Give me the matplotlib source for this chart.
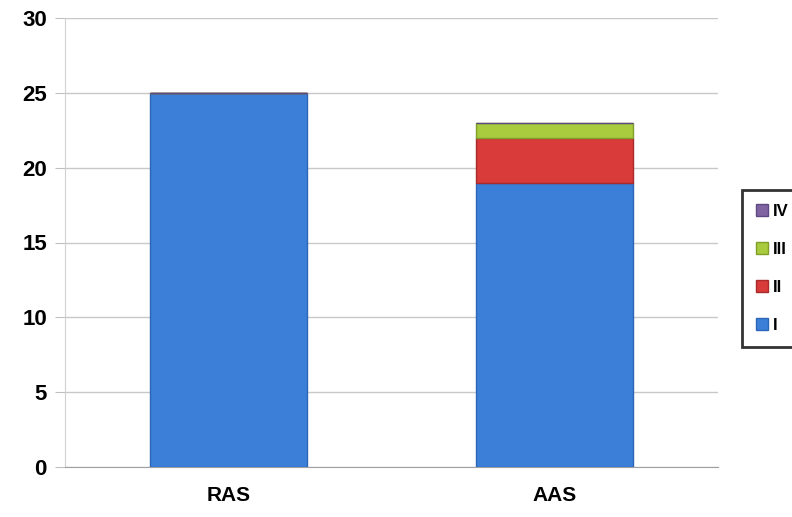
import numpy as np
import matplotlib.pyplot as plt

categories = ["RAS", "AAS"]
stage_names = ["I", "II", "III", "IV"]
stage_I = [25, 19]
stage_II = [0, 3]
stage_III = [0, 1]
stage_IV = [0, 0]

colors = ["#3b7fd9", "#d93a3a", "#a9cc3e", "#8064a2"]
edges = ["#2c66b8", "#a82a2a", "#7f9e2a", "#5e4a80"]

plt.rcParams["font.family"] = ["Liberation Sans", "DejaVu Sans"]

fig = plt.figure(figsize=(7.92, 5.17), dpi=100)
ax = fig.add_axes([65 / 792, 50 / 517, 653 / 792, 449 / 517])

x = np.arange(len(categories))
width = 0.48
bottom = np.zeros(len(categories))
handles = []
for vals, name, c, ec in zip([stage_I, stage_II, stage_III, stage_IV],
                             stage_names, colors, edges):
    vals = np.array(vals, dtype=float)
    bars = ax.bar(x, vals, width, bottom=bottom, color=c, edgecolor=ec,
                  linewidth=1.0, label=name, zorder=3)
    handles.append(bars)
    bottom += vals

ax.set_xlim(-0.5, 1.5)
ax.set_ylim(0, 30)
ax.set_yticks(range(0, 31, 5))
ax.set_xticks(x)
ax.set_xticklabels(categories)
for lab in ax.get_yticklabels():
    lab.set_fontweight("bold")
    lab.set_fontsize(16)
for lab in ax.get_xticklabels():
    lab.set_fontweight("bold")
    lab.set_fontsize(15)

ax.yaxis.grid(True, color="#c8c8c8", linewidth=1.0, zorder=0)
ax.tick_params(axis="y", length=7, color="#c0c0c0", pad=6)
ax.tick_params(axis="x", length=0, pad=14)
for side in ["top", "right"]:
    ax.spines[side].set_visible(False)
ax.spines["left"].set_color("#d0d0d0")
ax.spines["bottom"].set_color("#a0a0a0")

# legend sits at the right edge, as in the original
leg = fig.legend(handles[::-1], stage_names[::-1], loc="upper left",
                 bbox_to_anchor=(742 / 792, 1 - 190 / 517), frameon=True,
                 fancybox=False, edgecolor="black", borderaxespad=0,
                 handlelength=0.7, handleheight=0.7, handletextpad=0.3,
                 labelspacing=1.38, borderpad=0.85,
                 prop={"weight": "bold", "size": 12})
leg.get_frame().set_linewidth(2)

fig.savefig("out.png", dpi=100)
